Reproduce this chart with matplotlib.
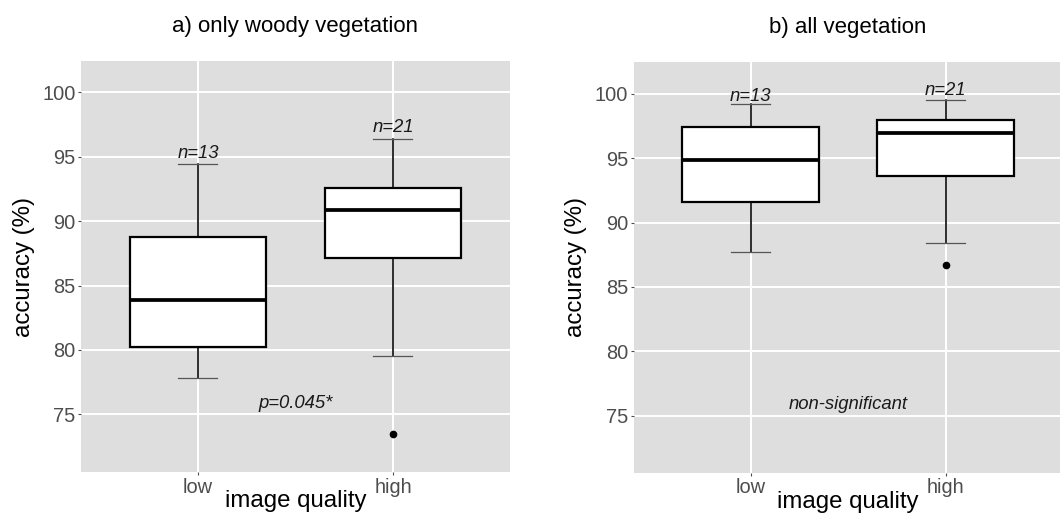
import matplotlib as mpl
import matplotlib.pyplot as plt
import numpy as np

mpl.rcParams['font.family'] = ['Liberation Sans', 'DejaVu Sans']

categories = ["low", "high"]
panel_titles = ["a) only woody vegetation", "b) all vegetation"]

# box stats: lower whisker, q1, median, q3, upper whisker
woody_low = [77.8, 80.2, 83.9, 88.8, 94.4]
woody_high = [79.5, 87.1, 90.9, 92.6, 96.4]
woody_fliers = [[], [73.5]]

all_low = [87.7, 91.6, 94.9, 97.4, 99.2]
all_high = [88.4, 93.6, 97.0, 98.0, 99.5]
all_fliers = [[], [86.7]]

n_labels = ["n=13", "n=21"]
woody_n_y = [94.93, 96.92]
all_n_y = [99.43, 99.95]

sig_labels = ["p=0.045*", "non-significant"]
sig_y = [75.47, 75.49]

yticks = [75, 80, 85, 90, 95, 100]


def make_stats(rows, fliers):
    stats = []
    for r, f in zip(rows, fliers):
        stats.append(dict(whislo=r[0], q1=r[1], med=r[2], q3=r[3], whishi=r[4], fliers=f))
    return stats


def draw_panel(ax, rows, fliers, n_y, sig, sy, title, ylim):
    ax.set_facecolor('#DEDEDE')
    for s in ax.spines.values():
        s.set_visible(False)
    ax.grid(True, color='white', linewidth=1.4)
    ax.set_axisbelow(True)

    pos = np.arange(1, len(categories) + 1)
    ax.bxp(make_stats(rows, fliers), positions=pos, widths=0.7, capwidths=0.2,
           patch_artist=True,
           boxprops=dict(facecolor='white', edgecolor='black', linewidth=1.6),
           medianprops=dict(color='black', linewidth=2.7),
           whiskerprops=dict(color='black', linewidth=1.15),
           capprops=dict(color='#555555', linewidth=0.9),
           flierprops=dict(marker='o', markerfacecolor='black', markeredgecolor='black',
                           markersize=4.5))

    for x, y, lab in zip(pos, n_y, n_labels):
        ax.text(x, y, lab, ha='center', va='baseline', fontsize=13.3, style='italic',
                color='#1a1a1a')
    ax.text(1.5, sy, sig, ha='center', va='baseline', fontsize=13.3, style='italic',
            color='#1a1a1a')

    ax.set_xlim(0.4, 2.6)
    ax.set_ylim(*ylim)
    ax.set_xticks(pos)
    ax.set_xticklabels(categories)
    ax.set_yticks(yticks)
    ax.tick_params(axis='both', labelsize=14.4, labelcolor='#4D4D4D', color='#4D4D4D',
                   length=2.5, width=0.8, pad=1.5)

    ax.set_title(title, fontsize=16, pad=21)
    ax.set_xlabel("image quality", fontsize=17.3)
    ax.xaxis.set_label_coords(0.5, -0.085)
    ax.xaxis.label.set_va('baseline')
    ax.set_ylabel("accuracy (%)", fontsize=17.3)
    ax.yaxis.label.set_va('center')
    ax.yaxis.set_label_coords(-0.134, 0.5)


def main():
    fig = plt.figure(figsize=(10.6, 5.14), dpi=100)
    ax1 = fig.add_axes([0.0764, 0.0817, 0.4047, 0.7996])
    ax2 = fig.add_axes([0.5978, 0.0804, 0.4047, 0.7996])

    draw_panel(ax1, [woody_low, woody_high], woody_fliers, woody_n_y,
               sig_labels[0], sig_y[0], panel_titles[0], (70.52, 102.43))
    draw_panel(ax2, [all_low, all_high], all_fliers, all_n_y,
               sig_labels[1], sig_y[1], panel_titles[1], (70.57, 102.51))

    fig.savefig("out.png", dpi=100)


if __name__ == "__main__":
    main()
